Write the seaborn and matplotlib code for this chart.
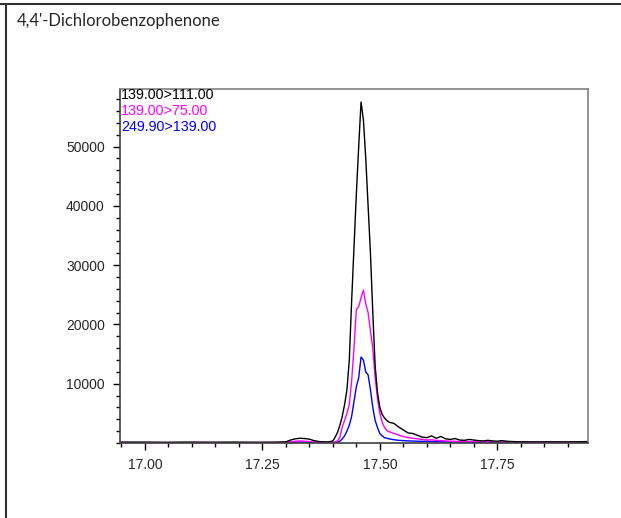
import seaborn as sns
import matplotlib.pyplot as plt
import matplotlib.ticker as mticker
from matplotlib.lines import Line2D
import pandas as pd
import numpy as np

sns.set_style("ticks")
plt.rcParams["font.family"] = ["Liberation Sans", "DejaVu Sans"]

compound = "4,4'-Dichlorobenzophenone"
transitions = ["139.00>111.00", "139.00>75.00", "249.90>139.00"]
colors = ["#000000", "#ff00ff", "#0000ff"]

# retention time (min)
rt = [16.945, 16.99, 17.04, 17.09, 17.14, 17.19, 17.24, 17.28, 17.30, 17.31,
      17.32, 17.33, 17.34, 17.35, 17.36, 17.37, 17.38, 17.39, 17.40, 17.405,
      17.41, 17.415, 17.42, 17.425, 17.43, 17.435, 17.44, 17.445, 17.45, 17.455,
      17.46, 17.465, 17.47, 17.475, 17.48, 17.485, 17.49, 17.495, 17.50, 17.505,
      17.51, 17.515, 17.52, 17.53, 17.54, 17.55, 17.56, 17.57, 17.58, 17.59,
      17.60, 17.61, 17.62, 17.63, 17.64, 17.65, 17.66, 17.67, 17.68, 17.69,
      17.70, 17.71, 17.72, 17.73, 17.74, 17.75, 17.76, 17.77, 17.78, 17.80,
      17.83, 17.86, 17.89, 17.92, 17.945]

ion_111 = [150, 150, 120, 150, 130, 150, 120, 150, 200, 500,
           700, 800, 750, 650, 400, 250, 200, 180, 350, 1000,
           1800, 3000, 4500, 6500, 9000, 14000, 24000, 33000, 42000, 50000,
           57500, 54500, 48000, 40000, 32000, 22000, 13000, 8500, 6000, 4800,
           4200, 3800, 3500, 3300, 2700, 2200, 1700, 1600, 1300, 1000,
           900, 1200, 800, 1100, 700, 600, 750, 500, 450, 600,
           500, 400, 350, 450, 350, 300, 400, 300, 250, 200,
           180, 200, 180, 200, 250]

ion_75 = [80, 80, 70, 80, 80, 70, 80, 80, 100, 200,
          300, 350, 300, 250, 150, 100, 80, 80, 100, 200,
          350, 1000, 2700, 3800, 5000, 6500, 10500, 16000, 22500, 23000,
          24500, 25800, 23500, 22000, 19000, 16000, 11000, 7500, 5000, 3500,
          2600, 2100, 1900, 1600, 1350, 1100, 900, 800, 700, 600,
          500, 550, 450, 400, 350, 300, 300, 250, 250, 250,
          200, 200, 180, 200, 180, 170, 180, 160, 150, 150,
          150, 140, 150, 140, 150]

ion_139 = [60, 60, 50, 60, 60, 50, 60, 60, 70, 100,
           130, 150, 140, 120, 90, 70, 60, 60, 60, 80,
           150, 300, 700, 1200, 2000, 3000, 4500, 7000, 9500, 11000,
           14500, 14000, 12000, 11500, 9000, 6000, 3800, 2600, 1600, 1200,
           900, 800, 700, 550, 450, 400, 350, 330, 300, 280,
           300, 250, 220, 200, 200, 180, 170, 160, 150, 150,
           140, 130, 120, 120, 110, 100, 100, 100, 90, 90,
           80, 80, 80, 80, 80]

df = pd.DataFrame({"rt": rt, transitions[0]: ion_111,
                   transitions[1]: ion_75, transitions[2]: ion_139})
long = df.melt(id_vars="rt", var_name="transition", value_name="intensity")

W, H = 621, 518
fig = plt.figure(figsize=(W / 100, H / 100), dpi=100)
ax = fig.add_axes([120 / W, 1 - 443 / H, 468 / W, (443 - 89) / H])

sns.lineplot(data=long, x="rt", y="intensity", hue="transition",
             hue_order=transitions[::-1], palette=dict(zip(transitions, colors)),
             linewidth=1.0, legend=False, ax=ax)

ax.set_xlim(16.947, 17.943)
ax.set_ylim(0, 59700)
ax.set_xlabel("")
ax.set_ylabel("")

ax.xaxis.set_major_locator(mticker.MultipleLocator(0.25))
ax.xaxis.set_minor_locator(mticker.MultipleLocator(0.05))
ax.xaxis.set_major_formatter(mticker.FormatStrFormatter("%.2f"))
ax.yaxis.set_major_locator(mticker.FixedLocator([10000, 20000, 30000, 40000, 50000]))
ax.yaxis.set_minor_locator(mticker.MultipleLocator(2000))
ax.tick_params(axis="both", which="major", length=5, width=1, labelsize=10,
               direction="out", color="black", pad=6)
ax.tick_params(axis="both", which="minor", length=3, width=1,
               direction="out", color="black")

for side in ["left", "bottom"]:
    ax.spines[side].set_color("#404040")
for side in ["top", "right"]:
    ax.spines[side].set_color("#808080")
for s in ax.spines.values():
    s.set_linewidth(1.2)

for i, (lab, c) in enumerate(zip(transitions, colors)):
    fig.text(121 / W, 1 - (95 + 16 * i) / H, lab, color=c, fontsize=10.3,
             ha="left", va="center")

fig.text(17 / W, 1 - 21 / H, compound, fontsize=12, ha="left", va="center",
         family=["Lato", "DejaVu Sans"])

# outer frame of the report cell
fig.add_artist(Line2D([0, 1], [1 - 4 / H, 1 - 4 / H], color="#303030", linewidth=1.5))
fig.add_artist(Line2D([6 / W, 6 / W], [0, 1 - 4 / H], color="#303030", linewidth=1.5))

fig.savefig("out.png", dpi=100)
